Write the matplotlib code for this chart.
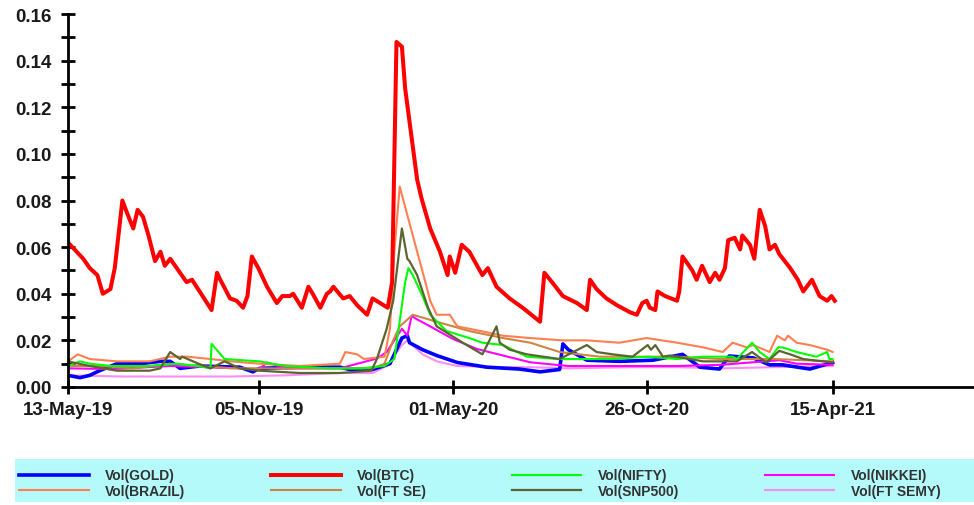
import numpy as np
import pandas as pd
import matplotlib
matplotlib.use("Agg")
import matplotlib.pyplot as plt
from matplotlib.ticker import MultipleLocator
from matplotlib.patches import Rectangle

plt.rcParams['font.family'] = ['Liberation Sans', 'DejaVu Sans']

start = pd.Timestamp('2019-05-13')
tick_dates = ['2019-05-13', '2019-11-05', '2020-05-01', '2020-10-26', '2021-04-15']
tick_labels = ['13-May-19', '05-Nov-19', '01-May-20', '26-Oct-20', '15-Apr-21']

# days since 13-May-19
btc_days = [0, 8, 14, 20, 27, 32, 39, 43, 50, 54, 60, 64, 69, 74, 80, 85, 89, 94, 100, 109, 114, 121, 132, 137,
            140, 149, 155, 161, 165, 169, 175, 183, 192, 197, 204, 207, 215, 221, 225, 232, 238, 241, 244, 253,
            259, 266, 275, 280, 287, 294, 298, 302, 307, 310, 321, 325, 333, 342, 349, 351, 356, 362, 369, 381,
            386, 394, 406, 418, 434, 438, 445, 455, 468, 477, 480, 486, 495, 505, 517, 523, 528, 532, 535, 540,
            542, 549, 560, 562, 565, 574, 578, 583, 590, 595, 599, 604, 607, 613, 618, 620, 627, 631, 636, 641,
            645, 650, 654, 664, 671, 676, 684, 691, 698, 702, 705]
btc_vals = [.062, .058, .055, .051, .048, .040, .042, .051, .080, .075, .068, .076, .073, .065, .054, .058, .052,
            .055, .051, .045, .046, .041, .033, .049, .046, .038, .037, .034, .039, .056, .051, .043, .036, .039,
            .039, .040, .034, .043, .040, .034, .040, .041, .043, .038, .039, .035, .031, .038, .036, .034, .045,
            .148, .146, .128, .089, .081, .068, .058, .048, .056, .049, .061, .058, .048, .051, .043, .038, .034,
            .028, .049, .045, .039, .036, .033, .046, .042, .038, .035, .032, .031, .036, .037, .034, .033, .041,
            .039, .037, .041, .056, .050, .046, .052, .045, .049, .046, .051, .063, .064, .059, .065, .061, .055,
            .076, .069, .059, .061, .057, .051, .046, .041, .046, .039, .037, .039, .037]

brazil_days = [0, 9, 20, 45, 75, 94, 110, 131, 150, 176, 213, 250, 255, 266, 272, 291, 296, 300, 305, 317, 328,
               333, 339, 351, 358, 369, 400, 425, 455, 477, 507, 532, 560, 584, 602, 611, 624, 630, 645, 652, 659,
               662, 670, 682, 698, 703]
brazil_vals = [.011, .014, .012, .011, .011, .013, .013, .012, .011, .010, .009, .010, .015, .014, .012, .013,
               .025, .058, .086, .065, .046, .037, .031, .031, .026, .025, .022, .021, .020, .020, .019, .021,
               .019, .017, .015, .019, .017, .018, .015, .022, .020, .022, .019, .018, .016, .015]

ftse_days = [0, 30, 60, 94, 120, 150, 200, 250, 280, 291, 299, 305, 317, 339, 369, 400, 425, 452, 489, 560, 600,
             650, 703]
ftse_vals = [.009, .009, .008, .010, .009, .008, .008, .008, .008, .010, .020, .026, .031, .028, .024, .021,
             .019, .015, .013, .013, .012, .012, .011]

nifty_days = [0, 11, 20, 40, 75, 100, 120, 131, 132, 144, 176, 200, 240, 270, 291, 300, 304, 310, 313, 317, 326,
              333, 348, 369, 381, 400, 422, 450, 500, 533, 560, 584, 611, 615, 629, 636, 645, 653, 657, 670, 688,
              698, 700, 703]
nifty_vals = [.009, .011, .010, .009, .009, .010, .009, .008, .0185, .012, .011, .009, .008, .008, .009, .012,
              .025, .045, .051, .048, .039, .031, .024, .021, .019, .018, .013, .012, .012, .013, .012, .013,
              .013, .012, .019, .015, .012, .017, .017, .015, .013, .015, .012, .012]

snp_days = [0, 20, 45, 75, 85, 90, 94, 103, 105, 120, 131, 144, 158, 176, 213, 250, 279, 284, 293, 299, 307, 312,
            314, 321, 326, 331, 339, 363, 381, 394, 397, 406, 422, 452, 477, 486, 501, 519, 533, 536, 540, 547,
            553, 584, 615, 629, 642, 654, 664, 676, 694, 703]
snp_vals = [.011, .009, .007, .007, .008, .012, .015, .012, .013, .010, .008, .011, .008, .007, .006, .006, .007,
            .012, .025, .037, .068, .055, .054, .048, .041, .034, .026, .019, .014, .026, .019, .016, .014, .012,
            .018, .015, .014, .013, .018, .016, .018, .013, .0135, .011, .011, .015, .0105, .0155, .014, .012,
            .011, .0105]

gold_days = [0, 11, 20, 29, 45, 66, 85, 94, 103, 121, 158, 170, 176, 213, 250, 259, 280, 296, 307, 312, 314, 326,
             339, 358, 385, 415, 434, 452, 455, 460, 477, 507, 538, 565, 581, 599, 608, 630, 645, 657, 682, 703]
gold_vals = [.005, .004, .005, .007, .010, .010, .011, .011, .008, .009, .0085, .0065, .008, .0085, .0085,
             .0075, .0075, .010, .021, .022, .019, .016, .0135, .0105, .0085, .0077, .0065, .0075, .0185, .016,
             .0115, .011, .0115, .014, .0085, .0077, .0133, .0125, .0095, .0095, .0077, .0105]

nikkei_days = [0, 40, 94, 131, 176, 183, 200, 250, 284, 293, 307, 312, 316, 321, 333, 354, 376, 400, 425, 460,
               520, 560, 600, 654, 670, 703]
nikkei_vals = [.008, .0077, .009, .0085, .0077, .0105, .008, .008, .0122, .015, .025, .022, .0305, .029, .026,
               .0206, .0163, .0135, .0106, .009, .009, .009, .0095, .0115, .010, .0095]

ftsemy_days = [0, 50, 100, 150, 200, 250, 280, 293, 307, 312, 326, 339, 358, 400, 425, 460, 520, 560, 600, 650, 703]
ftsemy_vals = [.005, .0045, .0045, .0045, .005, .006, .006, .009, .018, .020, .014, .011, .009, .0085, .0085,
               .008, .0085, .0085, .008, .0085, .009]

series = [
    ('Vol(FT SEMY)', ftsemy_days, ftsemy_vals, '#FF8CF5', 1.5),
    ('Vol(GOLD)', gold_days, gold_vals, '#0000FF', 2.6),
    ('Vol(NIKKEI)', nikkei_days, nikkei_vals, '#FF00FF', 1.5),
    ('Vol(FT SE)', ftse_days, ftse_vals, '#CD853F', 1.5),
    ('Vol(BRAZIL)', brazil_days, brazil_vals, '#FF7F50', 1.5),
    ('Vol(NIFTY)', nifty_days, nifty_vals, '#00FF00', 1.5),
    ('Vol(SNP500)', snp_days, snp_vals, '#5A6630', 1.6),
    ('Vol(BTC)', btc_days, btc_vals, '#FF0000', 2.9),
]

fig = plt.figure(figsize=(9.74, 5.06), dpi=100)
ax = fig.add_axes([68 / 974, 118 / 506, 906 / 974, 373 / 506])

lines = {}
for name, d, v, c, lw in series:
    x = start + pd.to_timedelta(d, unit='D')
    ln, = ax.plot(x, v, color=c, linewidth=lw, label=name)
    lines[name] = ln

ax.set_ylim(0, 0.16)
ax.set_xlim(start, start + pd.Timedelta(days=833))
ax.yaxis.set_minor_locator(MultipleLocator(0.01))
ax.set_yticks(np.arange(0, 0.161, 0.02))
ax.set_yticklabels(['%.2f' % t for t in np.arange(0, 0.161, 0.02)])
ax.set_xticks(pd.to_datetime(tick_dates))
ax.set_xticklabels(tick_labels)

for s in ['top', 'right']:
    ax.spines[s].set_visible(False)
for s in ['left', 'bottom']:
    ax.spines[s].set_linewidth(2)
ax.tick_params(axis='both', which='major', direction='inout', length=10, width=2,
               labelsize=13.5, labelcolor='#1a1a1a')
ax.tick_params(axis='y', which='minor', direction='inout', length=10, width=2)
ax.tick_params(axis='y', pad=7)
ax.tick_params(axis='x', pad=5)
for lab in ax.get_xticklabels() + ax.get_yticklabels():
    lab.set_fontweight('bold')

# legend background strip
fig.patches.append(Rectangle((15 / 974, 3 / 506), 959 / 974, 43 / 506, transform=fig.transFigure,
                             facecolor='#B5FAFA', edgecolor='none', zorder=0))

order = ['Vol(GOLD)', 'Vol(BRAZIL)', 'Vol(BTC)', 'Vol(FT SE)', 'Vol(NIFTY)', 'Vol(SNP500)',
         'Vol(NIKKEI)', 'Vol(FT SEMY)']
leg = fig.legend([lines[n] for n in order], order, ncol=4, loc='lower left',
                 bbox_to_anchor=(15 / 974, 3 / 506, 930 / 974, 43 / 506), mode='expand',
                 frameon=False, prop={'size': 10, 'weight': 'bold'}, handlelength=5.0,
                 handletextpad=1.2, labelspacing=0.1, borderpad=0.3, borderaxespad=0)
for t in leg.get_texts():
    t.set_color('#333333')

fig.savefig('out.png', dpi=100)
